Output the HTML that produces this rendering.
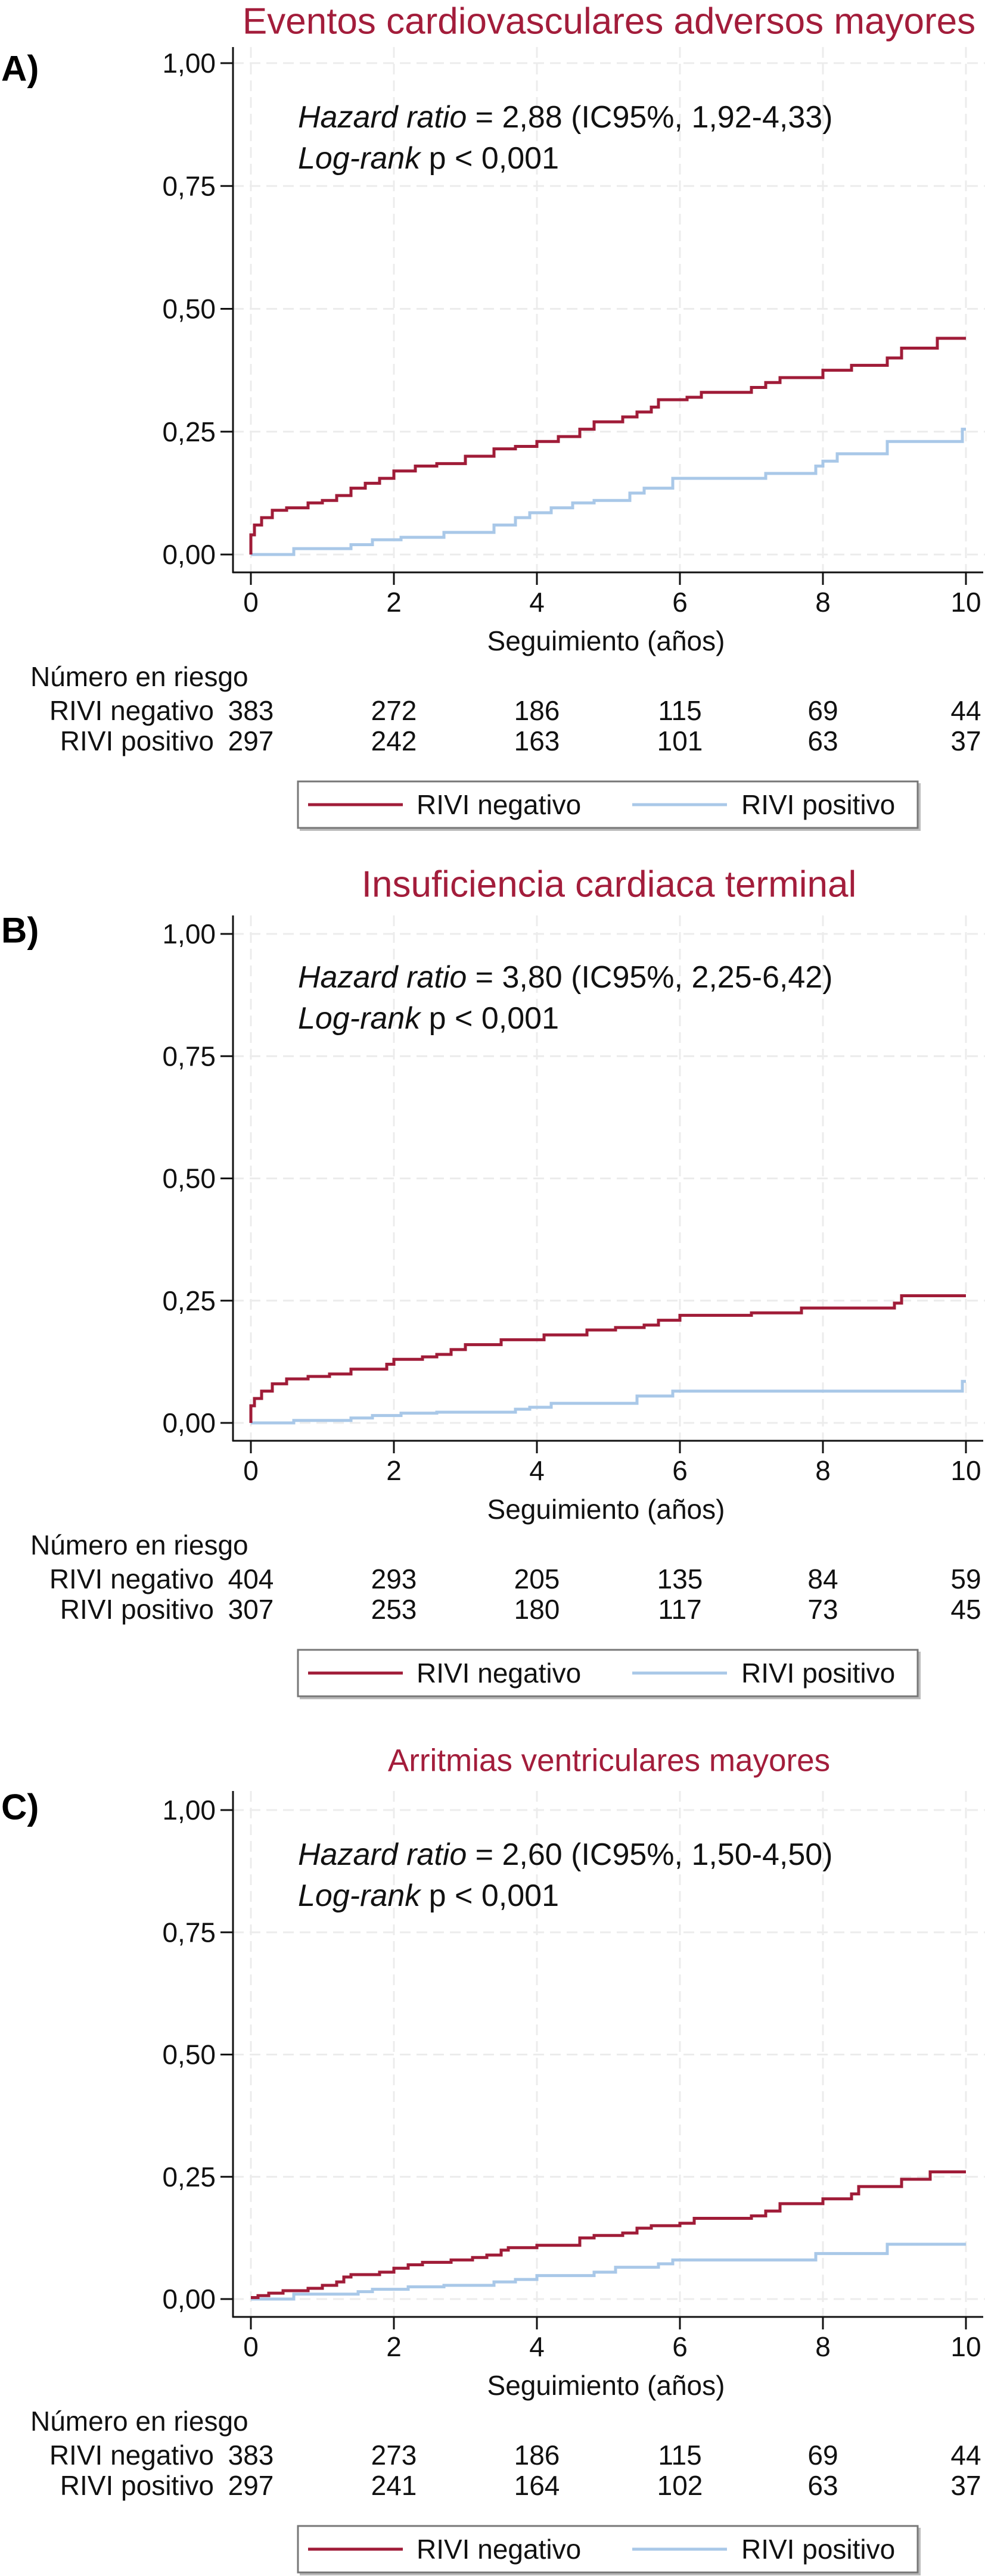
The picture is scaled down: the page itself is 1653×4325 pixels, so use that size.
<!DOCTYPE html>
<html><head><meta charset="utf-8">
<style>
html,body{margin:0;padding:0;background:#fff;}
svg{display:block;font-family:"Liberation Sans",Arial,sans-serif;}
</style></head>
<body>
<svg id="fig" width="1653" height="4325" viewBox="0 0 1653 4325" xmlns="http://www.w3.org/2000/svg"></svg>
<script>
// ---- data ----
const xTicks = [0, 2, 4, 6, 8, 10];
const yTicks = [0, 0.25, 0.5, 0.75, 1.0];
const yTickLabels = ["0,00", "0,25", "0,50", "0,75", "1,00"];
const panelLetters = ["A)", "B)", "C)"];
const panelTitles = ["Eventos cardiovasculares adversos mayores", "Insuficiencia cardiaca terminal", "Arritmias ventriculares mayores"];
const hazardValues = ["2,88 (IC95%, 1,92-4,33)", "3,80 (IC95%, 2,25-6,42)", "2,60 (IC95%, 1,50-4,50)"];
const riskNegA = [383, 272, 186, 115, 69, 44];
const riskPosA = [297, 242, 163, 101, 63, 37];
const riskNegB = [404, 293, 205, 135, 84, 59];
const riskPosB = [307, 253, 180, 117, 73, 45];
const riskNegC = [383, 273, 186, 115, 69, 44];
const riskPosC = [297, 241, 164, 102, 63, 37];
// step curves: times and cumulative incidence
const negTimesA = [0,0,0.05,0.15,0.3,0.5,0.8,1.0,1.2,1.4,1.6,1.8,2.0,2.3,2.6,3.0,3.4,3.7,4.0,4.3,4.6,4.8,5.2,5.4,5.6,5.7,6.1,6.3,7.0,7.2,7.4,8.0,8.4,8.9,9.1,9.6,10];
const negValsA  = [0,0.04,0.06,0.075,0.09,0.095,0.105,0.11,0.12,0.135,0.145,0.155,0.17,0.18,0.185,0.2,0.215,0.22,0.23,0.24,0.255,0.27,0.28,0.29,0.3,0.315,0.32,0.33,0.34,0.35,0.36,0.375,0.385,0.4,0.42,0.44,0.44];
const posTimesA = [0,0.6,1.4,1.7,2.1,2.7,3.4,3.7,3.9,4.2,4.5,4.8,5.3,5.5,5.9,7.2,7.9,8.0,8.2,8.9,9.95,10];
const posValsA  = [0,0.012,0.02,0.03,0.035,0.045,0.06,0.075,0.085,0.095,0.105,0.11,0.125,0.135,0.155,0.165,0.18,0.19,0.205,0.23,0.255,0.255];
const negTimesB = [0,0,0.05,0.15,0.3,0.5,0.8,1.1,1.4,1.9,2.0,2.4,2.6,2.8,3.0,3.5,4.1,4.7,5.1,5.5,5.7,6.0,7.0,7.7,9.0,9.1,10];
const negValsB  = [0,0.035,0.05,0.065,0.08,0.09,0.095,0.1,0.11,0.12,0.13,0.135,0.14,0.15,0.16,0.17,0.18,0.19,0.195,0.2,0.21,0.22,0.225,0.235,0.245,0.26,0.26];
const posTimesB = [0,0.6,1.4,1.7,2.1,2.6,3.7,3.9,4.2,5.4,5.9,9.95,10];
const posValsB  = [0,0.005,0.01,0.015,0.02,0.022,0.028,0.032,0.04,0.055,0.065,0.085,0.085];
const negTimesC = [0,0.1,0.25,0.45,0.8,1.0,1.2,1.3,1.4,1.8,2.0,2.2,2.4,2.8,3.1,3.3,3.5,3.6,4.0,4.6,4.8,5.2,5.4,5.6,6.0,6.2,7.0,7.2,7.4,8.0,8.4,8.5,9.1,9.5,10];
const negValsC  = [0.003,0.007,0.012,0.017,0.022,0.028,0.035,0.045,0.05,0.055,0.063,0.07,0.075,0.08,0.085,0.09,0.1,0.105,0.11,0.125,0.13,0.135,0.145,0.15,0.155,0.165,0.17,0.18,0.195,0.205,0.215,0.23,0.245,0.26,0.26];
const posTimesC = [0,0.6,1.5,1.7,2.2,2.7,3.4,3.7,4.0,4.8,5.1,5.7,5.9,7.9,8.9,10];
const posValsC  = [0,0.01,0.015,0.02,0.025,0.028,0.035,0.04,0.048,0.055,0.065,0.072,0.08,0.093,0.112,0.112];

// ---- layout ----
const NS = "http://www.w3.org/2000/svg";
const svg = document.getElementById("fig");
const RED = "#a01c38", BLUE = "#a9c8e8", TITLE = "#a31d3b";
const X0 = 421, XW = 1200, AXL = 391;
function mk(tag, attrs, parent, text) {
  const e = document.createElementNS(NS, tag);
  for (const k in attrs) e.setAttribute(k, attrs[k]);
  if (text !== undefined) e.textContent = text;
  (parent || svg).appendChild(e);
  return e;
}
const panels = [
  {zero: 931, one: 106, top: 79, title: 36, tsize: 62, letter: 115, hz: 197, neg: [negTimesA, negValsA], pos: [posTimesA, posValsA], rn: riskNegA, rp: riskPosA},
  {zero: 2389, one: 1568, top: 1537, title: 1485, tsize: 62, letter: 1562, hz: 1641, neg: [negTimesB, negValsB], pos: [posTimesB, posValsB], rn: riskNegB, rp: riskPosB},
  {zero: 3860, one: 3039, top: 3007, title: 2956, tsize: 53, letter: 3034, hz: 3114, neg: [negTimesC, negValsC], pos: [posTimesC, posValsC], rn: riskNegC, rp: riskPosC}
];
panels.forEach((p, i) => {
  const g = mk("g", {});
  
  
  const xs = t => X0 + t / 10 * XW;
  const ys = v => p.zero - v * (p.zero - p.one);
  // grid
  yTicks.forEach(v => {
    const l = mk("line", {x1: AXL, x2: 1653, y1: ys(v), y2: ys(v), stroke: "#ececec", "stroke-width": 3, "stroke-dasharray": "18 10"}, g);
    
    
  });
  xTicks.forEach(t => {
    const l = mk("line", {x1: xs(t), x2: xs(t), y1: p.top, y2: p.zero + 30, stroke: "#ececec", "stroke-width": 3, "stroke-dasharray": "18 10"}, g);
    
    
  });
  // axes
  const ya = mk("line", {x1: AXL, x2: AXL, y1: p.top, y2: p.zero + 31, stroke: "#111", "stroke-width": 3}, g);
  
  
  const xa = mk("line", {x1: AXL - 1, x2: 1650, y1: p.zero + 30, y2: p.zero + 30, stroke: "#111", "stroke-width": 3}, g);
  
  
  yTicks.forEach((v, k) => {
    mk("line", {x1: 370, x2: AXL, y1: ys(v), y2: ys(v), stroke: "#111", "stroke-width": 3}, g);
    const t = mk("text", {x: 362, y: ys(v), "text-anchor": "end", "dominant-baseline": "central", "font-size": 46, fill: "#111"}, g, yTickLabels[k]);
    
    
  });
  xTicks.forEach(tv => {
    mk("line", {x1: xs(tv), x2: xs(tv), y1: p.zero + 30, y2: p.zero + 51, stroke: "#111", "stroke-width": 3}, g);
    const t = mk("text", {x: xs(tv), y: p.zero + 80, "text-anchor": "middle", "dominant-baseline": "central", "font-size": 46, fill: "#111"}, g, String(tv));
    
    
  });
  const at = mk("text", {x: 1017, y: p.zero + 145, "text-anchor": "middle", "dominant-baseline": "central", "font-size": 46, fill: "#111"}, g, "Seguimiento (años)");
  
  
  // title & letter
  const tt = mk("text", {x: 1022, y: p.title, "text-anchor": "middle", "dominant-baseline": "central", "font-size": p.tsize, fill: TITLE}, g, panelTitles[i]);
  
  
  const lt = mk("text", {x: 2, y: p.letter, "dominant-baseline": "central", "font-size": 60, "font-weight": "bold", fill: "#000"}, g, panelLetters[i]);
  
  
  // annotation
  const h = mk("text", {x: 500, y: p.hz, "dominant-baseline": "central", "font-size": 52, fill: "#111"}, g);
  
  
  mk("tspan", {"font-style": "italic"}, h, "Hazard ratio");
  mk("tspan", {}, h, " = " + hazardValues[i]);
  const lr = mk("text", {x: 500, y: p.hz + 69, "dominant-baseline": "central", "font-size": 52, fill: "#111"}, g);
  
  
  mk("tspan", {"font-style": "italic"}, lr, "Log-rank");
  mk("tspan", {}, lr, " p < 0,001");
  // curves
  function stepPath(ts, vs) {
    let d = "M" + xs(ts[0]) + " " + ys(vs[0]);
    for (let k = 1; k < ts.length; k++) {
      d += " H" + xs(ts[k]) + " V" + ys(vs[k]);
    }
    return d;
  }
  const pb = mk("path", {d: stepPath(p.pos[0], p.pos[1]), fill: "none", stroke: BLUE, "stroke-width": 5}, g);
  
  
  const pr = mk("path", {d: stepPath(p.neg[0], p.neg[1]), fill: "none", stroke: RED, "stroke-width": 5}, g);
  
  
  // risk table
  const nr = mk("text", {x: 51, y: p.zero + 205, "dominant-baseline": "central", "font-size": 46, fill: "#111"}, g, "Número en riesgo");
  
  
  [["RIVI negativo", p.rn, 262], ["RIVI positivo", p.rp, 313]].forEach(row => {
    const rl = mk("text", {x: 359, y: p.zero + row[2], "text-anchor": "end", "dominant-baseline": "central", "font-size": 46, fill: "#111"}, g, row[0]);
    
    
    row[1].forEach((n, k) => {
      const c = mk("text", {x: xs(xTicks[k]), y: p.zero + row[2], "text-anchor": "middle", "dominant-baseline": "central", "font-size": 46, fill: "#111"}, g, String(n));
      
      
    });
  });
  // legend
  const lg = mk("g", {}, g);
  
  
  mk("rect", {x: 503, y: p.zero + 384, width: 1042, height: 80, fill: "#bbb"}, lg);
  mk("rect", {x: 500, y: p.zero + 381, width: 1040, height: 78, fill: "#fff", stroke: "#777", "stroke-width": 3}, lg);
  mk("line", {x1: 517, x2: 676, y1: p.zero + 420, y2: p.zero + 420, stroke: RED, "stroke-width": 5}, lg);
  const l1 = mk("text", {x: 699, y: p.zero + 420, "dominant-baseline": "central", "font-size": 46, fill: "#111"}, lg, "RIVI negativo");
  
  
  mk("line", {x1: 1061, x2: 1220, y1: p.zero + 420, y2: p.zero + 420, stroke: BLUE, "stroke-width": 5}, lg);
  const l2 = mk("text", {x: 1244, y: p.zero + 420, "dominant-baseline": "central", "font-size": 46, fill: "#111"}, lg, "RIVI positivo");
  
  
});
</script>
</body></html>
